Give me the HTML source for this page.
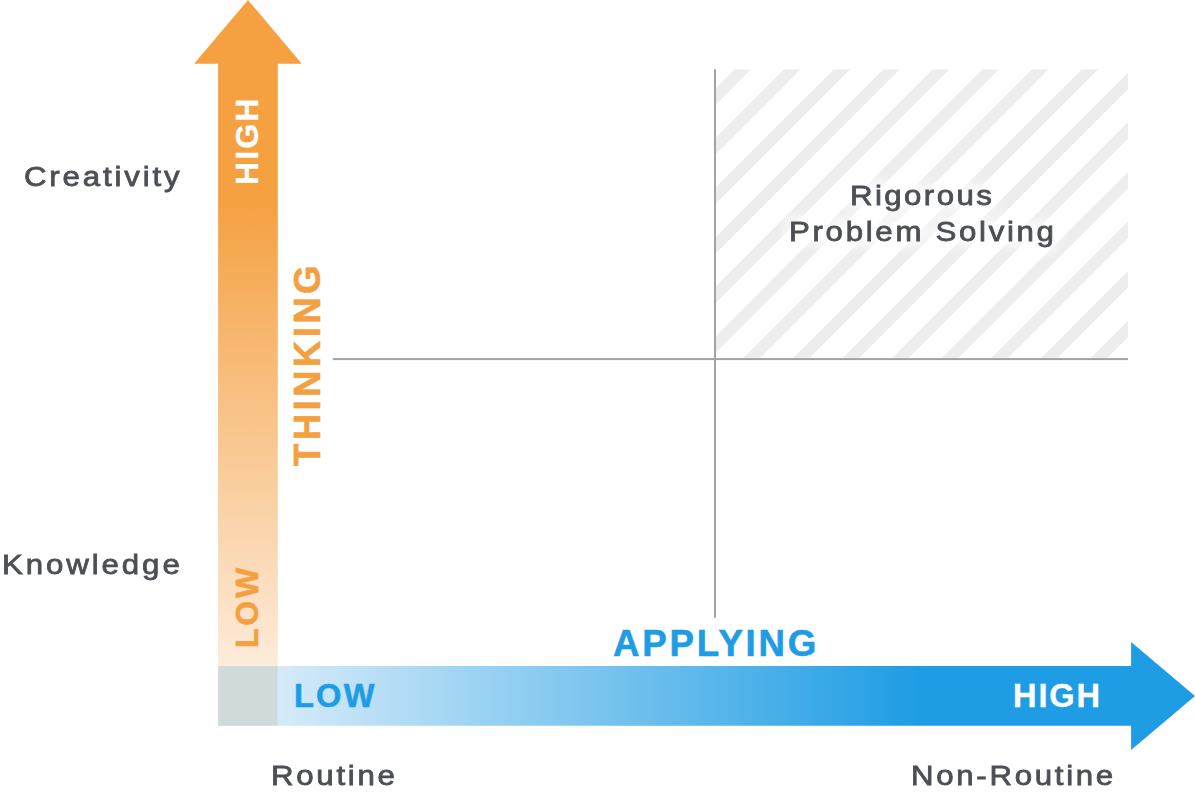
<!DOCTYPE html>
<html><head><meta charset="utf-8"><style>
html,body{margin:0;padding:0;background:#fff;width:1195px;height:795px;overflow:hidden;position:relative}
.t{position:absolute;white-space:nowrap;line-height:1;font-family:"Liberation Sans",sans-serif}
.rot{transform-origin:0 0;transform:rotate(-90deg)}
svg{position:absolute;left:0;top:0}
</style></head><body>
<svg width="1195" height="795" viewBox="0 0 1195 795">
<defs>
<linearGradient id="og" x1="0" y1="63.8" x2="0" y2="666" gradientUnits="userSpaceOnUse">
<stop offset="0" stop-color="#f5a142"/>
<stop offset="0.23" stop-color="#f5a142"/>
<stop offset="1" stop-color="#fdebda"/>
</linearGradient>
<linearGradient id="bg" x1="277.8" y1="0" x2="1131" y2="0" gradientUnits="userSpaceOnUse">
<stop offset="0" stop-color="#d5ebf9"/>
<stop offset="0.75" stop-color="#1f9de4"/>
<stop offset="1" stop-color="#1f9de4"/>
</linearGradient>
<filter id="glowf" x="-30%" y="-80%" width="160%" height="260%" color-interpolation-filters="sRGB">
<feMorphology in="SourceAlpha" operator="dilate" radius="4" result="d"/>
<feGaussianBlur in="d" stdDeviation="7" result="b"/>
<feFlood flood-color="#fff" flood-opacity="0.9"/>
<feComposite in2="b" operator="in" result="g"/>
<feMerge><feMergeNode in="g"/><feMergeNode in="SourceGraphic"/></feMerge>
</filter>
<clipPath id="hc"><rect x="715" y="69.3" width="413" height="289.5"/></clipPath>
</defs>
<g clip-path="url(#hc)" fill="#ededed">
<polygon points="585.80,69.30 602.30,69.30 312.80,358.80 296.30,358.80"/>
<polygon points="635.40,69.30 651.90,69.30 362.40,358.80 345.90,358.80"/>
<polygon points="685.00,69.30 701.50,69.30 412.00,358.80 395.50,358.80"/>
<polygon points="734.60,69.30 751.10,69.30 461.60,358.80 445.10,358.80"/>
<polygon points="784.20,69.30 800.70,69.30 511.20,358.80 494.70,358.80"/>
<polygon points="833.80,69.30 850.30,69.30 560.80,358.80 544.30,358.80"/>
<polygon points="883.40,69.30 899.90,69.30 610.40,358.80 593.90,358.80"/>
<polygon points="933.00,69.30 949.50,69.30 660.00,358.80 643.50,358.80"/>
<polygon points="982.60,69.30 999.10,69.30 709.60,358.80 693.10,358.80"/>
<polygon points="1032.20,69.30 1048.70,69.30 759.20,358.80 742.70,358.80"/>
<polygon points="1081.80,69.30 1098.30,69.30 808.80,358.80 792.30,358.80"/>
<polygon points="1131.40,69.30 1147.90,69.30 858.40,358.80 841.90,358.80"/>
<polygon points="1181.00,69.30 1197.50,69.30 908.00,358.80 891.50,358.80"/>
<polygon points="1230.60,69.30 1247.10,69.30 957.60,358.80 941.10,358.80"/>
<polygon points="1280.20,69.30 1296.70,69.30 1007.20,358.80 990.70,358.80"/>
<polygon points="1329.80,69.30 1346.30,69.30 1056.80,358.80 1040.30,358.80"/>
<polygon points="1379.40,69.30 1395.90,69.30 1106.40,358.80 1089.90,358.80"/>
<polygon points="1429.00,69.30 1445.50,69.30 1156.00,358.80 1139.50,358.80"/>
</g>
<rect x="714.0" y="69.3" width="2" height="548.4000000000001" fill="#a2a2a2"/>
<rect x="332.8" y="358.1" width="795.2" height="2" fill="#a2a2a2"/>
<polygon points="248,0 301.8,63.8 277.8,63.8 277.8,666 218.1,666 218.1,63.8 194.1,63.8" fill="url(#og)"/>
<polygon points="277.8,666 1131.1,666 1131.1,642 1195,696 1131.1,749.9 1131.1,725.8 277.8,725.8" fill="url(#bg)"/>
<rect x="218.1" y="666" width="59.70000000000002" height="59.799999999999955" fill="#cfdbdb"/>
</svg>
<div class="t" style="left:24.16px;top:162.20px;font-size:28.40px;letter-spacing:2.56px;color:#4c4f54;font-weight:400;-webkit-text-stroke:0.8px #4c4f54;transform-origin:0 0;transform:scaleX(1.1)">Creativity</div>
<div class="t" style="left:1.87px;top:550.27px;font-size:28.40px;letter-spacing:2.64px;color:#4c4f54;font-weight:400;-webkit-text-stroke:0.8px #4c4f54;transform-origin:0 0;transform:scaleX(1.1)">Knowledge</div>
<div class="t" style="left:271.01px;top:761.28px;font-size:28.40px;letter-spacing:2.47px;color:#4c4f54;font-weight:400;-webkit-text-stroke:0.8px #4c4f54;transform-origin:0 0;transform:scaleX(1.1)">Routine</div>
<div class="t" style="left:911.18px;top:761.17px;font-size:28.40px;letter-spacing:2.44px;color:#4c4f54;font-weight:400;-webkit-text-stroke:0.8px #4c4f54;transform-origin:0 0;transform:scaleX(1.1)">Non-Routine</div>
<div class="t" style="left:849.69px;top:181.30px;font-size:28.40px;letter-spacing:2.19px;color:#4c4f54;font-weight:400;-webkit-text-stroke:0.8px #4c4f54;transform-origin:0 0;transform:scaleX(1.1);filter:url(#glowf)">Rigorous</div>
<div class="t" style="left:788.73px;top:216.80px;font-size:28.40px;letter-spacing:2.44px;color:#4c4f54;font-weight:400;-webkit-text-stroke:0.8px #4c4f54;transform-origin:0 0;transform:scaleX(1.1);filter:url(#glowf)">Problem Solving</div>
<div class="t" style="left:613.11px;top:626.21px;font-size:36.70px;letter-spacing:2.70px;color:#1f9de4;font-weight:700;-webkit-text-stroke:0.6px #1f9de4">APPLYING</div>
<div class="t" style="left:294.05px;top:680.21px;font-size:32.60px;letter-spacing:2.17px;color:#1f9de4;font-weight:700;-webkit-text-stroke:0.6px #1f9de4">LOW</div>
<div class="t" style="left:1013.06px;top:680.31px;font-size:32.60px;letter-spacing:1.81px;color:#ffffff;font-weight:700;-webkit-text-stroke:0.3px #ffffff">HIGH</div>
<div class="t rot" style="left:231.18px;top:185.42px;font-size:32.00px;letter-spacing:2.10px;color:#ffffff;font-weight:700;-webkit-text-stroke:0.3px #ffffff">HIGH</div>
<div class="t rot" style="left:289.62px;top:465.85px;font-size:36.70px;letter-spacing:3.31px;color:#f4a040;font-weight:700;-webkit-text-stroke:0.6px #f4a040">THINKING</div>
<div class="t rot" style="left:231.20px;top:648.04px;font-size:32.00px;letter-spacing:2.82px;color:#f4a040;font-weight:700;-webkit-text-stroke:0.6px #f4a040">LOW</div>
</body></html>
